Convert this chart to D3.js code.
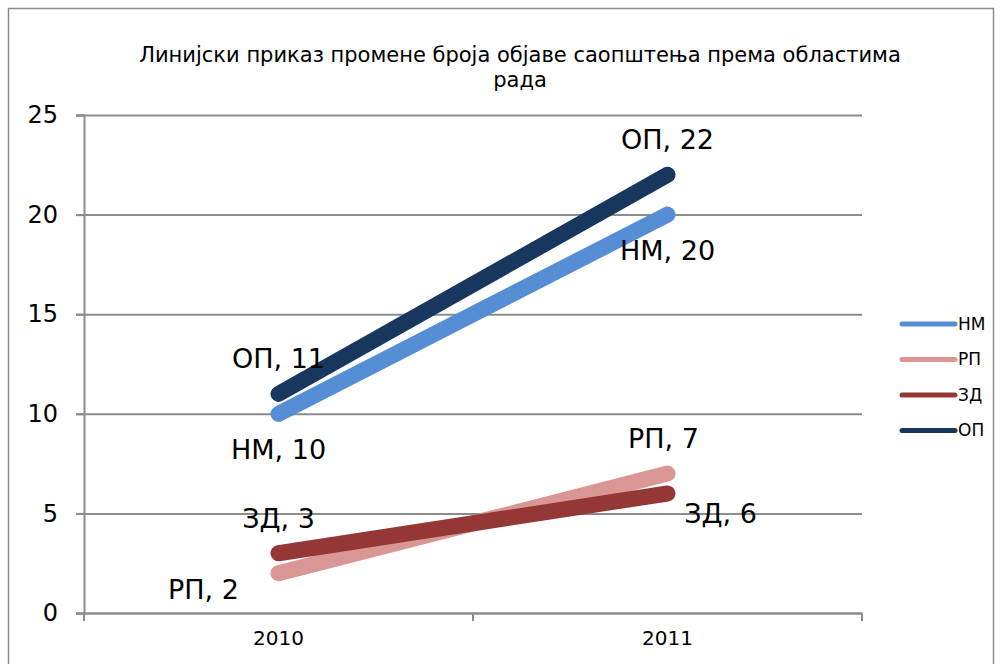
<!DOCTYPE html>
<html>
<head>
<meta charset="utf-8">
<script src="https://cdn.jsdelivr.net/npm/d3@7"></script>
<style>
	body { margin: 0; background: #fff; }
	svg { display: block; }
	text { font-family: "DejaVu Sans", Verdana, sans-serif; fill: #000; }
</style>
</head>
<body>
<svg width="1002" height="664"></svg>
<script>
// chart data
const years = ["2010", "2011"];
const seriesNames = ["НМ", "РП", "ЗД", "ОП"];
const nmValues = [10, 20];
const rpValues = [2, 7];
const zdValues = [3, 6];
const opValues = [11, 22];
const yTicks = [0, 5, 10, 15, 20, 25];
const titleLines = ["Линијски приказ промене броја објаве саопштења према областима", "рада"];

const colors = {"НМ": "#558ED5", "РП": "#D99694", "ЗД": "#953735", "ОП": "#17375E"};

// label offsets per series/point (dx, dy from point)
const labelPos = {
	"НМ": [[0, 38], [0, 38]],
	"РП": [[-75, 18], [-4, -33]],
	"ЗД": [[0, -33], [53, 22]],
	"ОП": [[0, -33], [0, -33]]
};

const series = [
	{name: "НМ", values: nmValues},
	{name: "РП", values: rpValues},
	{name: "ЗД", values: zdValues},
	{name: "ОП", values: opValues}
];

const svg = d3.select("svg");

// outer frame
svg.append("rect")
	.attr("x", 8.5).attr("y", 8.5)
	.attr("width", 985).attr("height", 700)
	.attr("fill", "none")
	.attr("stroke", "#8c8c8c")
	.attr("stroke-width", 1.5);

const plot = {left: 84, right: 862, top: 115, bottom: 613};

const x = d3.scaleBand().domain(years).range([plot.left, plot.right]);
const y = d3.scaleLinear().domain([0, 25]).range([plot.bottom, plot.top]);

// title
svg.append("text")
	.attr("x", 520).attr("y", 62)
	.attr("text-anchor", "middle")
	.style("font-size", "21px")
	.selectAll("tspan")
	.data(titleLines)
	.join("tspan")
	.attr("x", 520)
	.attr("dy", (d, i) => i == 0 ? 0 : 25)
	.text(d => d);

// gridlines
svg.append("g")
	.selectAll("line")
	.data(yTicks)
	.join("line")
	.attr("x1", plot.left - 8).attr("x2", plot.right)
	.attr("y1", d => y(d) + 0.5).attr("y2", d => y(d) + 0.5)
	.attr("stroke", "#8c8c8c")
	.attr("stroke-width", 2);

// y axis
const yAxis = svg.append("g")
	.attr("transform", `translate(${plot.left},0)`)
	.call(d3.axisLeft(y).tickValues(yTicks).tickSize(8).tickPadding(18));
yAxis.select(".domain").attr("stroke", "#8c8c8c").attr("stroke-width", 2);
yAxis.selectAll(".tick line").attr("stroke", "#8c8c8c").attr("stroke-width", 2);
yAxis.selectAll("text").style("font-size", "24px").style("font-family", "'DejaVu Sans', Verdana, sans-serif").attr("fill", "#000");

// x axis
const xAxis = svg.append("g")
	.attr("transform", `translate(0,${plot.bottom})`)
	.call(d3.axisBottom(x).tickSize(0).tickPadding(18));
xAxis.select(".domain").attr("stroke", "#8c8c8c").attr("stroke-width", 2);
xAxis.selectAll("text").style("font-size", "20px").style("font-family", "'DejaVu Sans', Verdana, sans-serif").attr("fill", "#000");
// category separators
svg.append("g")
	.selectAll("line")
	.data([plot.left, (plot.left + plot.right) / 2, plot.right])
	.join("line")
	.attr("x1", d => d).attr("x2", d => d)
	.attr("y1", plot.bottom).attr("y2", plot.bottom + 8)
	.attr("stroke", "#8c8c8c")
	.attr("stroke-width", 2);

const cx = d => x(d) + x.bandwidth() / 2;

const line = d3.line()
	.x((d, i) => cx(years[i]))
	.y(d => y(d));

// series lines
svg.append("g")
	.selectAll("path")
	.data(series)
	.join("path")
	.attr("d", s => line(s.values))
	.attr("fill", "none")
	.attr("stroke", s => colors[s.name])
	.attr("stroke-width", 16)
	.attr("stroke-linecap", "round");

// data labels
series.forEach(s => {
	s.values.forEach((v, i) => {
		const off = labelPos[s.name][i];
		svg.append("text")
			.attr("x", cx(years[i]) + off[0])
			.attr("y", y(v) + off[1])
			.attr("text-anchor", "middle")
			.attr("dominant-baseline", "middle")
			.style("font-size", "27px")
			.text(s.name + ", " + v);
	});
});

// legend
const legend = svg.append("g")
	.selectAll("g")
	.data(seriesNames)
	.join("g")
	.attr("transform", (d, i) => `translate(902,${324 + i * 35.5})`);
legend.append("line")
	.attr("x1", 0).attr("x2", 53)
	.attr("stroke", d => colors[d])
	.attr("stroke-width", 5)
	.attr("stroke-linecap", "round");
legend.append("text")
	.attr("x", 56)
	.attr("dy", "0.35em")
	.style("font-size", "17px")
	.text(d => d);
</script>
</body>
</html>
